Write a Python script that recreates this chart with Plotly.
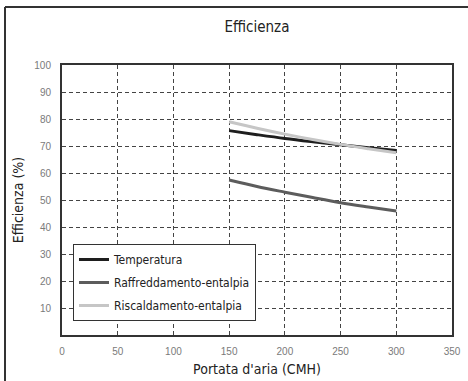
import plotly.graph_objects as go

portata = [150, 175, 200, 225, 250, 275, 300]
temperatura = [75.7, 74.2, 72.8, 71.6, 70.5, 69.4, 68.3]
raffreddamento = [57.4, 55.0, 52.9, 50.9, 49.0, 47.4, 45.9]
riscaldamento = [79.0, 76.6, 74.4, 72.4, 70.6, 69.0, 67.5]

series_names = ["Temperatura", "Raffreddamento-entalpia", "Riscaldamento-entalpia"]
series_colors = ["#1e1e1e", "#5c5c5c", "#c6c6c6"]

x_ticks = [0, 50, 100, 150, 200, 250, 300, 350]
y_ticks = [10, 20, 30, 40, 50, 60, 70, 80, 90, 100]

COND = "Liberation Sans Narrow, DejaVu Sans Condensed, Arial Narrow, sans-serif"

fig = go.Figure()
for i, (name, vals, col) in enumerate(zip(series_names, [temperatura, raffreddamento, riscaldamento], series_colors)):
    fig.add_trace(go.Scatter(x=portata, y=vals, name=name, mode="lines", legendgroup=f"g{i}",
                             line=dict(color=col, width=3, shape="spline")))

W, H = 468, 381
L, R, T, B = 62, 16, 65, 46
pw, ph = W - L - R, H - T - B

def px_x(px):
    return (px - L) / pw

def px_y(py):
    return (H - B - py) / ph

# outer frame (left and top only, running off the picture)
fig.add_shape(type="line", xref="paper", yref="paper",
              x0=px_x(5), y0=px_y(7), x1=px_x(5), y1=px_y(400),
              line=dict(color="#333333", width=2))
fig.add_shape(type="line", xref="paper", yref="paper",
              x0=px_x(5), y0=px_y(7), x1=px_x(480), y1=px_y(7),
              line=dict(color="#333333", width=2))

fig.update_layout(
    width=W, height=H,
    margin=dict(l=L, r=R, t=T, b=B, autoexpand=False),
    paper_bgcolor="white", plot_bgcolor="white",
    title=dict(text="Efficienza", x=0.5, xref="paper", xanchor="center",
               y=1 - 27 / H, yref="container", yanchor="middle",
               font=dict(family=COND, size=15, color="#222222")),
    xaxis=dict(range=[0, 350], tickvals=x_ticks, showgrid=True,
               gridcolor="#444444", griddash="4px,3px", gridwidth=1,
               showline=True, linecolor="#333333", linewidth=2, mirror=True,
               zeroline=False, ticks="", ticklabelstandoff=6,
               tickfont=dict(family="Liberation Sans, Arial, sans-serif", size=10, color="#7a7a7a"),
               title=dict(text="Portata d'aria (CMH)", standoff=8,
                          font=dict(family=COND, size=14, color="#222222"))),
    yaxis=dict(range=[0, 100], tickvals=y_ticks, showgrid=True,
               gridcolor="#444444", griddash="4px,3px", gridwidth=1,
               showline=True, linecolor="#333333", linewidth=2, mirror=True,
               zeroline=False, ticks="", ticklabelstandoff=7,
               tickfont=dict(family="Liberation Sans, Arial, sans-serif", size=10, color="#7a7a7a"),
               title=dict(text="Efficienza (%)", standoff=7,
                          font=dict(family=COND, size=14, color="#222222"))),
    legend=dict(x=px_x(73), y=px_y(244), xanchor="left", yanchor="top",
                bgcolor="white", bordercolor="#333333", borderwidth=1,
                font=dict(family=COND, size=12, color="#222222"),
                itemwidth=30, tracegroupgap=4),
    showlegend=True,
)

fig.write_html("out.html", config={"displayModeBar": False, "staticPlot": True},
               post_script="document.body.style.margin='0';document.body.style.padding='0';")
